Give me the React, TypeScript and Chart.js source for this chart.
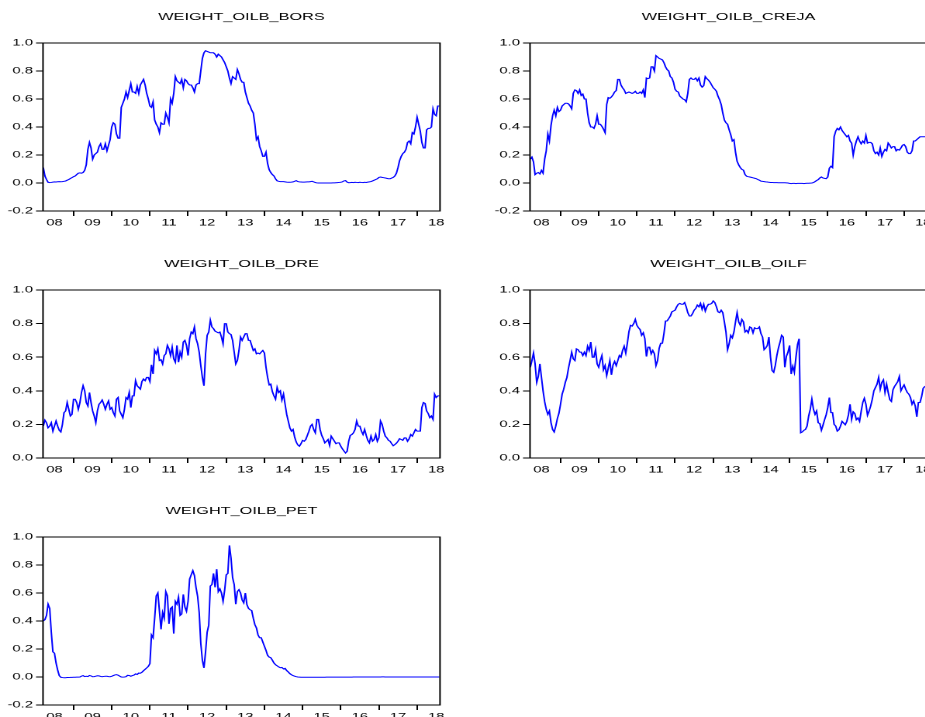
import { useEffect, useRef } from 'react';
import { Chart, registerables } from 'chart.js';

Chart.register(...registerables);

// ---- time axis ----
const START_YEAR = 2009 - 19 / 24; // first observation (half-monthly sampling)
const STEP = 1 / 24;
const X_MIN = 2008.2;
const X_MAX = 2018.6;
const YEAR_TICKS = [2009, 2010, 2011, 2012, 2013, 2014, 2015, 2016, 2017, 2018];
const YEAR_LABELS = ['08', '09', '10', '11', '12', '13', '14', '15', '16', '17', '18'];
const LABEL_POS = YEAR_LABELS.map((_, i) => 2008.5 + i);
const Y_TICKS_A = [-0.2, 0, 0.2, 0.4, 0.6, 0.8, 1.0];
const Y_TICKS_B = [0, 0.2, 0.4, 0.6, 0.8, 1.0];

// ---- series ----
const BORS = [
  0.11, 0.05, 0.025, 0.005, 0.003, 0.004, 0.006, 0.008, 0.007, 0.009,
  0.01, 0.009, 0.01, 0.012, 0.014, 0.02, 0.025, 0.032, 0.038, 0.045,
  0.05, 0.06, 0.07, 0.072, 0.07, 0.075, 0.09, 0.13, 0.24, 0.29,
  0.25, 0.17, 0.2, 0.21, 0.22, 0.26, 0.28, 0.24, 0.24, 0.28,
  0.23, 0.27, 0.31, 0.40, 0.43, 0.42, 0.35, 0.32, 0.32, 0.54,
  0.57, 0.6, 0.65, 0.61, 0.66, 0.71, 0.65, 0.65, 0.64, 0.69,
  0.64, 0.70, 0.72, 0.74, 0.70, 0.64, 0.6, 0.55, 0.54, 0.58,
  0.45, 0.42, 0.40, 0.36, 0.43, 0.42, 0.42, 0.5, 0.47, 0.43,
  0.6, 0.57, 0.64, 0.76, 0.73, 0.72, 0.71, 0.74, 0.68, 0.74,
  0.73, 0.71, 0.70, 0.70, 0.68, 0.65, 0.70, 0.71, 0.71, 0.80,
  0.89, 0.93, 0.945, 0.94, 0.935, 0.93, 0.93, 0.93, 0.92, 0.90,
  0.92, 0.91, 0.90, 0.88, 0.86, 0.83, 0.80, 0.75, 0.71, 0.76,
  0.75, 0.74, 0.81, 0.78, 0.74, 0.72, 0.72, 0.65, 0.61, 0.57,
  0.55, 0.52, 0.5, 0.42, 0.31, 0.33, 0.26, 0.23, 0.19, 0.19,
  0.22, 0.14, 0.095, 0.075, 0.06, 0.05, 0.03, 0.015, 0.012, 0.01,
  0.01, 0.01, 0.008, 0.006, 0.005, 0.005, 0.006, 0.008, 0.012, 0.017,
  0.01, 0.008, 0.007, 0.006, 0.006, 0.007, 0.008, 0.008, 0.01, 0.012,
  0.008, 0.003, 0.001, 0, 0, 0, 0, 0, 0, 0,
  0, 0, 0.001, 0.001, 0.002, 0.003, 0.004, 0.005, 0.008, 0.015,
  0.017, 0.006, 0.002, 0.003, 0.004, 0.003, 0.005, 0.004, 0.003, 0.005,
  0.004, 0.003, 0.005, 0.004, 0.006, 0.008, 0.01, 0.015, 0.02, 0.025,
  0.03, 0.04, 0.043, 0.04, 0.038, 0.036, 0.033, 0.03, 0.03, 0.035,
  0.04, 0.05, 0.07, 0.11, 0.16, 0.19, 0.21, 0.22, 0.24, 0.29,
  0.30, 0.28, 0.36, 0.35, 0.40, 0.47, 0.42, 0.37, 0.29, 0.25,
  0.25, 0.38, 0.39, 0.39, 0.40, 0.53, 0.49, 0.48, 0.55, 0.55,
];

const CREJA = [
  0.17, 0.185, 0.15, 0.06, 0.07, 0.075, 0.065, 0.09, 0.07, 0.17,
  0.23, 0.35, 0.30, 0.41, 0.48, 0.52, 0.48, 0.54, 0.51, 0.52,
  0.55, 0.56, 0.57, 0.57, 0.565, 0.55, 0.53, 0.64, 0.665, 0.66,
  0.64, 0.665, 0.625, 0.635, 0.60, 0.60, 0.50, 0.43, 0.40, 0.40,
  0.39, 0.42, 0.48, 0.42, 0.42, 0.405, 0.385, 0.36, 0.56, 0.61,
  0.605, 0.615, 0.63, 0.65, 0.66, 0.74, 0.74, 0.70, 0.68, 0.665,
  0.64, 0.645, 0.65, 0.645, 0.64, 0.645, 0.655, 0.64, 0.64, 0.65,
  0.64, 0.665, 0.61, 0.75, 0.745, 0.75, 0.83, 0.83, 0.80, 0.91,
  0.90, 0.89, 0.885, 0.88, 0.86, 0.83, 0.81, 0.80, 0.76, 0.75,
  0.72, 0.67, 0.655, 0.65, 0.62, 0.61, 0.60, 0.595, 0.58, 0.64,
  0.74, 0.75, 0.74, 0.74, 0.75, 0.73, 0.75, 0.70, 0.685, 0.695,
  0.76, 0.745, 0.735, 0.72, 0.70, 0.68, 0.67, 0.655, 0.62, 0.595,
  0.56, 0.50, 0.45, 0.43, 0.42, 0.38, 0.345, 0.30, 0.31, 0.22,
  0.155, 0.13, 0.11, 0.097, 0.092, 0.06, 0.048, 0.045, 0.043, 0.04,
  0.037, 0.034, 0.031, 0.025, 0.02, 0.013, 0.012, 0.01, 0.008, 0.007,
  0.005, 0.004, 0.004, 0.003, 0.003, 0.003, 0.002, 0.002, 0.002, 0.002,
  0.002, 0.001, 0, -0.003, -0.004, -0.003, -0.003, -0.004, -0.003, -0.003,
  -0.003, -0.003, -0.004, -0.003, -0.002, -0.002, -0.001, 0, 0.003, 0.01,
  0.018, 0.024, 0.036, 0.043, 0.036, 0.033, 0.031, 0.043, 0.105, 0.12,
  0.11, 0.33, 0.37, 0.39, 0.38, 0.40, 0.375, 0.36, 0.345, 0.33,
  0.34, 0.30, 0.285, 0.2, 0.26, 0.30, 0.33, 0.30, 0.28, 0.30,
  0.285, 0.34, 0.285, 0.29, 0.29, 0.28, 0.23, 0.21, 0.22, 0.2,
  0.25, 0.19, 0.22, 0.24, 0.23, 0.285, 0.27, 0.25, 0.26, 0.26,
  0.23, 0.24, 0.235, 0.25, 0.27, 0.275, 0.26, 0.22, 0.21, 0.21,
  0.23, 0.30, 0.30, 0.31, 0.32, 0.33, 0.33, 0.33, 0.33, 0.33,
];

const DRE = [
  0.19, 0.225, 0.21, 0.18, 0.19, 0.21, 0.16, 0.19, 0.22, 0.19,
  0.165, 0.155, 0.2, 0.27, 0.28, 0.33, 0.29, 0.25, 0.26, 0.35,
  0.35, 0.33, 0.29, 0.33, 0.39, 0.43, 0.40, 0.33, 0.31, 0.39,
  0.33, 0.28, 0.25, 0.21, 0.28, 0.32, 0.33, 0.345, 0.32, 0.29,
  0.32, 0.34, 0.29, 0.30, 0.27, 0.25, 0.35, 0.36, 0.28, 0.26,
  0.24, 0.29, 0.36, 0.35, 0.39, 0.30, 0.37, 0.37, 0.46, 0.43,
  0.42, 0.41, 0.455, 0.47, 0.46, 0.48, 0.48, 0.455, 0.555, 0.50,
  0.64, 0.62, 0.65, 0.58, 0.585, 0.56, 0.61, 0.62, 0.67, 0.65,
  0.61, 0.66, 0.59, 0.57, 0.67, 0.57, 0.63, 0.60, 0.69, 0.70,
  0.67, 0.61, 0.71, 0.75, 0.74, 0.78, 0.71, 0.68, 0.63, 0.55,
  0.48, 0.43, 0.62, 0.73, 0.75, 0.82, 0.78, 0.77, 0.755, 0.75,
  0.745, 0.75, 0.72, 0.68, 0.80, 0.80, 0.75, 0.74, 0.735, 0.70,
  0.63, 0.56, 0.58, 0.64, 0.72, 0.70, 0.72, 0.74, 0.74, 0.70,
  0.70, 0.67, 0.64, 0.65, 0.62, 0.625, 0.62, 0.63, 0.64, 0.625,
  0.54, 0.48, 0.435, 0.44, 0.395, 0.37, 0.35, 0.42, 0.39, 0.40,
  0.345, 0.38, 0.32, 0.26, 0.22, 0.18, 0.16, 0.17, 0.125, 0.095,
  0.078, 0.07, 0.085, 0.105, 0.10, 0.11, 0.135, 0.16, 0.19, 0.20,
  0.17, 0.15, 0.23, 0.23, 0.17, 0.135, 0.115, 0.09, 0.10, 0.11,
  0.075, 0.13, 0.115, 0.10, 0.085, 0.09, 0.09, 0.07, 0.055, 0.042,
  0.03, 0.04, 0.10, 0.135, 0.14, 0.15, 0.17, 0.22, 0.19, 0.19,
  0.16, 0.14, 0.17, 0.135, 0.105, 0.09, 0.13, 0.10, 0.11, 0.14,
  0.10, 0.12, 0.22, 0.20, 0.16, 0.13, 0.12, 0.105, 0.10, 0.085,
  0.073, 0.08, 0.088, 0.10, 0.115, 0.11, 0.105, 0.12, 0.12, 0.10,
  0.115, 0.14, 0.13, 0.15, 0.17, 0.16, 0.16, 0.16, 0.30, 0.33,
  0.325, 0.28, 0.265, 0.24, 0.25, 0.23, 0.38, 0.36, 0.37, 0.37,
];

const OILF = [
  0.54, 0.58, 0.625, 0.56, 0.45, 0.485, 0.56, 0.48, 0.40, 0.335,
  0.29, 0.26, 0.28, 0.21, 0.17, 0.155, 0.19, 0.235, 0.267, 0.32,
  0.38, 0.41, 0.45, 0.48, 0.535, 0.58, 0.63, 0.59, 0.58, 0.65,
  0.645, 0.63, 0.63, 0.61, 0.63, 0.61, 0.665, 0.64, 0.69, 0.60,
  0.60, 0.645, 0.56, 0.54, 0.58, 0.61, 0.525, 0.55, 0.49, 0.535,
  0.58, 0.495, 0.554, 0.575, 0.55, 0.58, 0.61, 0.60, 0.64, 0.665,
  0.624, 0.683, 0.752, 0.79, 0.785, 0.80, 0.825, 0.79, 0.775, 0.765,
  0.73, 0.745, 0.71, 0.604, 0.66, 0.66, 0.62, 0.64, 0.62, 0.55,
  0.58, 0.653, 0.683, 0.683, 0.74, 0.815, 0.816, 0.83, 0.845, 0.87,
  0.875, 0.88, 0.90, 0.915, 0.92, 0.915, 0.915, 0.925, 0.90, 0.865,
  0.845, 0.845, 0.86, 0.88, 0.89, 0.91, 0.90, 0.92, 0.885, 0.915,
  0.875, 0.90, 0.915, 0.915, 0.92, 0.935, 0.925, 0.90, 0.87, 0.865,
  0.88, 0.865, 0.81, 0.75, 0.645, 0.68, 0.73, 0.715, 0.75, 0.81,
  0.865, 0.81, 0.79, 0.825, 0.81, 0.75, 0.76, 0.745, 0.78, 0.775,
  0.745, 0.775, 0.77, 0.77, 0.78, 0.74, 0.72, 0.645, 0.655, 0.67,
  0.72, 0.60, 0.52, 0.51, 0.55, 0.61, 0.655, 0.69, 0.73, 0.72,
  0.54, 0.605, 0.63, 0.67, 0.50, 0.545, 0.51, 0.60, 0.675, 0.71,
  0.15, 0.155, 0.165, 0.17, 0.19, 0.25, 0.29, 0.35, 0.29, 0.26,
  0.28, 0.21, 0.205, 0.165, 0.195, 0.228, 0.257, 0.30, 0.36, 0.27,
  0.27, 0.20, 0.19, 0.16, 0.168, 0.19, 0.218, 0.208, 0.198, 0.218,
  0.257, 0.32, 0.23, 0.275, 0.265, 0.228, 0.238, 0.218, 0.277, 0.33,
  0.355, 0.32, 0.255, 0.28, 0.31, 0.35, 0.40, 0.42, 0.44, 0.48,
  0.41, 0.45, 0.465, 0.39, 0.44, 0.39, 0.347, 0.337, 0.406, 0.426,
  0.44, 0.455, 0.485, 0.40, 0.42, 0.435, 0.41, 0.39, 0.38, 0.36,
  0.32, 0.34, 0.31, 0.245, 0.33, 0.33, 0.365, 0.415, 0.425, 0.43,
];

const PET = [
  0.40, 0.41, 0.44, 0.52, 0.49, 0.32, 0.18, 0.17, 0.10, 0.05,
  0.01, -0.002, -0.004, -0.005, -0.005, -0.004, -0.004, -0.003, -0.003, -0.002,
  -0.002, -0.001, -0.001, 0, 0.006, 0.01, 0.003, 0.005, 0.003, 0.011,
  0.008, 0.002, 0.003, 0.006, 0.009, 0.008, 0.004, 0.002, 0.004, 0.005,
  0.005, 0.003, 0.002, 0.005, 0.01, 0.015, 0.017, 0.013, 0.006, 0,
  -0.001, 0, 0.002, 0.012, 0.011, 0.005, 0.01, 0.014, 0.022, 0.018,
  0.028, 0.027, 0.034, 0.045, 0.055, 0.065, 0.076, 0.095, 0.30, 0.28,
  0.42, 0.58, 0.60, 0.47, 0.34, 0.46, 0.42, 0.61, 0.58, 0.38,
  0.49, 0.50, 0.31, 0.54, 0.52, 0.57, 0.44, 0.45, 0.59, 0.50,
  0.47, 0.54, 0.70, 0.73, 0.76, 0.725, 0.64, 0.576, 0.46, 0.24,
  0.12, 0.065, 0.18, 0.32, 0.37, 0.65, 0.66, 0.74, 0.64, 0.77,
  0.61, 0.63, 0.60, 0.54, 0.62, 0.73, 0.74, 0.94, 0.85, 0.71,
  0.66, 0.52, 0.61, 0.624, 0.60, 0.55, 0.53, 0.60, 0.517, 0.49,
  0.48, 0.475, 0.42, 0.374, 0.35, 0.30, 0.28, 0.28, 0.25, 0.22,
  0.19, 0.155, 0.142, 0.138, 0.12, 0.10, 0.088, 0.08, 0.072, 0.066,
  0.068, 0.058, 0.062, 0.046, 0.036, 0.024, 0.016, 0.01, 0.006, 0.002,
  0, -0.001, -0.002, -0.002, -0.002, -0.002, -0.002, -0.002, -0.002, -0.002,
  -0.002, -0.002, -0.002, -0.002, -0.002, -0.002, -0.002, -0.002, -0.001, -0.001,
  -0.001, -0.001, -0.001, -0.001, -0.001, -0.001, -0.001, -0.001, -0.001, -0.001,
  -0.001, -0.001, -0.001, -0.001, -0.001, 0, 0, 0, 0, 0,
  0, 0, 0, 0, 0, 0, 0, 0, 0, 0,
  0, 0, 0, 0.001, 0.001, 0, 0, 0, 0, 0,
  0, 0, 0, 0, 0, 0, 0, 0, 0, 0,
  0, 0, 0, 0, 0, 0, 0, 0, 0, 0,
  0, 0, 0, 0, 0, 0, 0, 0, 0, 0,
];

// ---- layout (final CSS pixels); canvas is drawn narrower and stretched horizontally ----
const PANEL_W = 487;
const PANEL_H = 247;
const STRETCH = 1.551;
const IW = Math.round(PANEL_W / STRETCH);
const AREA_LEFT = 43;
const AREA_RIGHT = 440;
const AREA_TOP = 43;
const AREA_BOTTOM = 211;
const FONT = "'Liberation Sans', Arial, Helvetica, sans-serif";

type PanelSpec = { title: string; values: number[]; yTicks: number[]; left: number; top: number };

const PANELS: PanelSpec[] = [
  { title: 'WEIGHT_OILB_BORS', values: BORS, yTicks: Y_TICKS_A, left: 0, top: 0 },
  { title: 'WEIGHT_OILB_CREJA', values: CREJA, yTicks: Y_TICKS_A, left: 487, top: 0 },
  { title: 'WEIGHT_OILB_DRE', values: DRE, yTicks: Y_TICKS_B, left: 0, top: 247 },
  { title: 'WEIGHT_OILB_OILF', values: OILF, yTicks: Y_TICKS_B, left: 487, top: 247 },
  { title: 'WEIGHT_OILB_PET', values: PET, yTicks: Y_TICKS_A, left: 0, top: 494 },
];

const isLabelPos = (v: number) => LABEL_POS.some((p) => Math.abs(p - v) < 1e-6);

const framePlugin = {
  id: 'frame',
  afterDatasetsDraw(chart: any) {
    const { ctx, chartArea: a } = chart;
    ctx.save();
    ctx.strokeStyle = '#000';
    ctx.lineWidth = 1;
    ctx.strokeRect(a.left, a.top, a.right - a.left, a.bottom - a.top);
    ctx.restore();
  },
};

function Panel({ spec }: { spec: PanelSpec }) {
  const ref = useRef<HTMLCanvasElement | null>(null);

  useEffect(() => {
    if (!ref.current) return;
    const titleLine = 10.5 * 1.2;
    const titleTop = 11;
    const chart = new Chart(ref.current, {
      type: 'line',
      data: {
        datasets: [
          {
            data: spec.values.map((v, i) => ({ x: START_YEAR + i * STEP, y: v })),
            borderColor: '#0000ff',
            borderWidth: 1,
            pointRadius: 0,
            tension: 0,
            fill: false,
          },
        ],
      },
      plugins: [framePlugin],
      options: {
        responsive: false,
        animation: false,
        devicePixelRatio: 2,
        events: [],
        layout: {
          padding: { left: 0, right: IW - AREA_RIGHT / STRETCH, top: 0, bottom: 0 },
        },
        plugins: {
          legend: { display: false },
          tooltip: { enabled: false },
          title: {
            display: true,
            text: spec.title,
            fullSize: false,
            color: '#000',
            font: { family: FONT, size: 10.5, weight: 'normal', lineHeight: 1.2 },
            padding: { top: titleTop, bottom: AREA_TOP - titleTop - titleLine },
          },
        },
        scales: {
          x: {
            type: 'linear',
            min: X_MIN,
            max: X_MAX,
            afterBuildTicks: (scale: any) => {
              scale.ticks = [...YEAR_TICKS, ...LABEL_POS]
                .sort((a, b) => a - b)
                .map((v) => ({ value: v }));
            },
            afterFit: (scale: any) => {
              scale.height = PANEL_H - AREA_BOTTOM;
            },
            border: { display: false },
            grid: {
              display: true,
              drawOnChartArea: false,
              drawTicks: true,
              tickLength: 5,
              lineWidth: 1,
              color: (ctx: any) => (ctx.tick && isLabelPos(ctx.tick.value) ? 'rgba(0,0,0,0)' : '#000'),
            },
            ticks: {
              autoSkip: false,
              maxRotation: 0,
              minRotation: 0,
              padding: 1,
              color: '#000',
              font: { family: FONT, size: 9.5 },
              callback: (value: any) => {
                const i = LABEL_POS.findIndex((p) => Math.abs(p - Number(value)) < 1e-6);
                return i >= 0 ? YEAR_LABELS[i] : '';
              },
            },
          },
          y: {
            type: 'linear',
            min: spec.yTicks[0],
            max: spec.yTicks[spec.yTicks.length - 1],
            afterBuildTicks: (scale: any) => {
              scale.ticks = spec.yTicks.map((v) => ({ value: v }));
            },
            afterFit: (scale: any) => {
              scale.width = AREA_LEFT / STRETCH;
            },
            border: { display: false },
            grid: {
              display: true,
              drawOnChartArea: false,
              drawTicks: true,
              tickLength: 4.5,
              lineWidth: 1,
              color: '#000',
            },
            ticks: {
              autoSkip: false,
              padding: 2,
              color: '#000',
              font: { family: FONT, size: 9.5 },
              callback: (value: any) => {
                const v = Number(value);
                return (Math.abs(v) < 1e-9 ? 0 : v).toFixed(1);
              },
            },
          },
        },
      } as any,
    });
    return () => chart.destroy();
  }, [spec]);

  return (
    <canvas
      ref={ref}
      width={IW}
      height={PANEL_H}
      style={{ position: 'absolute', left: spec.left, top: spec.top, width: PANEL_W, height: PANEL_H }}
    />
  );
}

export default function App() {
  return (
    <div
      style={{
        position: 'absolute',
        left: 0,
        top: 0,
        width: 925,
        height: 717,
        overflow: 'hidden',
        background: '#fff',
      }}
    >
      {PANELS.map((p) => (
        <Panel key={p.title} spec={p} />
      ))}
    </div>
  );
}
